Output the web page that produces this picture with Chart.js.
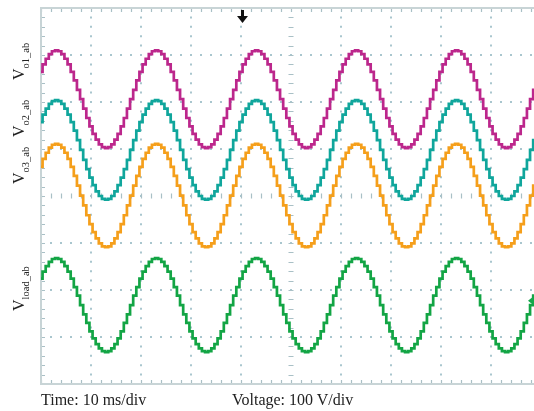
<!DOCTYPE html>
<html>
<head>
<meta charset="utf-8">
<script src="https://cdn.jsdelivr.net/npm/chart.js@4.4.1/dist/chart.umd.min.js"></script>
<style>
html,body{margin:0;padding:0;background:#fff;overflow:hidden}
#wrap{position:relative;width:534px;height:411px}
#c{position:absolute;left:0;top:0}
.yl{position:absolute;font-family:"Liberation Serif","DejaVu Serif",serif;font-size:16px;line-height:16px;color:#222;transform-origin:left top;transform:rotate(-90deg);white-space:nowrap}
.yl span{font-size:10.5px;position:relative;top:5px}
.xl{position:absolute;font-family:"Liberation Serif","DejaVu Serif",serif;font-size:16px;line-height:16px;color:#222;white-space:nowrap}
</style>
</head>
<body>
<div id="wrap">
<canvas id="c" width="534" height="411"></canvas>
<div class="yl" style="left:11px;top:80px">V<span>o1_ab</span></div>
<div class="yl" style="left:11px;top:137px">V<span>o2_ab</span></div>
<div class="yl" style="left:11px;top:184px">V<span>o3_ab</span></div>
<div class="yl" style="left:11px;top:311px">V<span>load_ab</span></div>
<div class="xl" style="left:41px;top:392px">Time: 10 ms/div</div>
<div class="xl" style="left:232px;top:392px">Voltage: 100 V/div</div>
</div>
<script>
// time (ms), one sample per staircase step
const timeMs = [
0,0.625,1.25,1.875,2.5,3.125,3.75,4.375,
5,5.625,6.25,6.875,7.5,8.125,8.75,9.375,
10,10.625,11.25,11.875,12.5,13.125,13.75,14.375,
15,15.625,16.25,16.875,17.5,18.125,18.75,19.375,
20,20.625,21.25,21.875,22.5,23.125,23.75,24.375,
25,25.625,26.25,26.875,27.5,28.125,28.75,29.375,
30,30.625,31.25,31.875,32.5,33.125,33.75,34.375,
35,35.625,36.25,36.875,37.5,38.125,38.75,39.375,
40,40.625,41.25,41.875,42.5,43.125,43.75,44.375,
45,45.625,46.25,46.875,47.5,48.125,48.75,49.375,
50,50.625,51.25,51.875,52.5,53.125,53.75,54.375,
55,55.625,56.25,56.875,57.5,58.125,58.75,59.375,
60,60.625,61.25,61.875,62.5,63.125,63.75,64.375,
65,65.625,66.25,66.875,67.5,68.125,68.75,69.375,
70,70.625,71.25,71.875,72.5,73.125,73.75,74.375,
75,75.625,76.25,76.875,77.5,78.125,78.75,79.375,
80,80.625,81.25,81.875,82.5,83.125,83.75,84.375,
85,85.625,86.25,86.875,87.5,88.125,88.75,89.375,
90,90.625,91.25,91.875,92.5,93.125,93.75,94.375,
95,95.625,96.25,96.875,97.5,98.125,98.75,99.375,
100];

// screen voltage (V, 100 V/div, 0 = screen centre)
const vo1 = [
264,280,292,302,308,
310,308,302,292,280,264,246,226,206,186,166,148,132,120,110,104,102,104,110,120,132,148,166,186,206,226,246,264,280,292,302,308,
310,308,302,292,280,264,246,226,206,186,166,148,132,120,110,104,102,104,110,120,132,148,166,186,206,226,246,264,280,292,302,308,
310,308,302,292,280,264,246,226,206,186,166,148,132,120,110,104,102,104,110,120,132,148,166,186,206,226,246,264,280,292,302,308,
310,308,302,292,280,264,246,226,206,186,166,148,132,120,110,104,102,104,110,120,132,148,166,186,206,226,246,264,280,292,302,308,
310,308,302,292,280,264,246,226,206,186,166,148,132,120,110,104,102,104,110,120,132,148,166,186,206,226,246,264];

const vo2 = [
157,173,186,196,202,
204,202,196,186,173,157,139,119,98,77,57,39,23,10,0,-6,-8,-6,0,10,23,39,57,77,98,119,139,157,173,186,196,202,
204,202,196,186,173,157,139,119,98,77,57,39,23,10,0,-6,-8,-6,0,10,23,39,57,77,98,119,139,157,173,186,196,202,
204,202,196,186,173,157,139,119,98,77,57,39,23,10,0,-6,-8,-6,0,10,23,39,57,77,98,119,139,157,173,186,196,202,
204,202,196,186,173,157,139,119,98,77,57,39,23,10,0,-6,-8,-6,0,10,23,39,57,77,98,119,139,157,173,186,196,202,
204,202,196,186,173,157,139,119,98,77,57,39,23,10,0,-6,-8,-6,0,10,23,39,57,77,98,119,139,157];

const vo3 = [
62,79,92,103,109,
111,109,103,92,79,62,43,22,1,-20,-41,-60,-77,-90,-101,-107,-109,-107,-101,-90,-77,-60,-41,-20,1,22,43,62,79,92,103,109,
111,109,103,92,79,62,43,22,1,-20,-41,-60,-77,-90,-101,-107,-109,-107,-101,-90,-77,-60,-41,-20,1,22,43,62,79,92,103,109,
111,109,103,92,79,62,43,22,1,-20,-41,-60,-77,-90,-101,-107,-109,-107,-101,-90,-77,-60,-41,-20,1,22,43,62,79,92,103,109,
111,109,103,92,79,62,43,22,1,-20,-41,-60,-77,-90,-101,-107,-109,-107,-101,-90,-77,-60,-41,-20,1,22,43,62,79,92,103,109,
111,109,103,92,79,62,43,22,1,-20,-41,-60,-77,-90,-101,-107,-109,-107,-101,-90,-77,-60,-41,-20,1,22,43,62];

const vload = [
-176,-161,-149,-140,-134,
-132,-134,-140,-149,-161,-176,-194,-212,-232,-252,-270,-288,-303,-315,-324,-330,-332,-330,-324,-315,-303,-288,-270,-252,-232,-212,-194,-176,-161,-149,-140,-134,
-132,-134,-140,-149,-161,-176,-194,-212,-232,-252,-270,-288,-303,-315,-324,-330,-332,-330,-324,-315,-303,-288,-270,-252,-232,-212,-194,-176,-161,-149,-140,-134,
-132,-134,-140,-149,-161,-176,-194,-212,-232,-252,-270,-288,-303,-315,-324,-330,-332,-330,-324,-315,-303,-288,-270,-252,-232,-212,-194,-176,-161,-149,-140,-134,
-132,-134,-140,-149,-161,-176,-194,-212,-232,-252,-270,-288,-303,-315,-324,-330,-332,-330,-324,-315,-303,-288,-270,-252,-232,-212,-194,-176,-161,-149,-140,-134,
-132,-134,-140,-149,-161,-176,-194,-212,-232,-252,-270,-288,-303,-315,-324,-330,-332,-330,-324,-315,-303,-288,-270,-252,-232,-212,-194,-176];

const seriesNames = ['Vo1_ab','Vo2_ab','Vo3_ab','Vload_ab'];
const triggerTimeMs = 40;
const loadGroundV = -223;

const dotColor = '#a9c6ce';
const tickColor = '#a9c0c6';
const frameColor = '#c8d4d6';

const scopeDecor = {
  id: 'scopeDecor',
  beforeDatasetsDraw(chart) {
    const {ctx, chartArea: a, scales: {x, y}} = chart;
    ctx.save();
    ctx.strokeStyle = tickColor;
    ctx.lineWidth = 1.2;
    const xc = x.getPixelForValue(50), yc = y.getPixelForValue(0);
    ctx.beginPath();
    for (let t = 0; t <= 100; t += 2) {
      const px = Math.round(x.getPixelForValue(t)) + 0.5;
      if (px > a.right + 1) break;
      ctx.moveTo(px, a.top); ctx.lineTo(px, a.top + 4);
      ctx.moveTo(px, a.bottom - 4); ctx.lineTo(px, a.bottom);
      ctx.moveTo(px, yc - 2.5); ctx.lineTo(px, yc + 2.5);
    }
    for (let v = -400; v <= 400; v += 20) {
      const py = Math.round(y.getPixelForValue(v)) + 0.5;
      ctx.moveTo(a.left, py); ctx.lineTo(a.left + 4, py);
      ctx.moveTo(xc - 2.5, py); ctx.lineTo(xc + 2.5, py);
    }
    ctx.stroke();
    // frame
    ctx.strokeStyle = frameColor;
    ctx.lineWidth = 2;
    ctx.beginPath();
    ctx.moveTo(a.right + 2, a.top); ctx.lineTo(a.left, a.top); ctx.lineTo(a.left, a.bottom); ctx.lineTo(a.right + 2, a.bottom);
    ctx.stroke();
    ctx.restore();
  },
  afterDatasetsDraw(chart) {
    const {ctx, chartArea: a, scales: {x, y}} = chart;
    ctx.save();
    // trigger arrow
    const tx = x.getPixelForValue(triggerTimeMs) + 1.5;
    ctx.fillStyle = '#111';
    ctx.fillRect(tx - 1.5, a.top + 2, 3, 7);
    ctx.beginPath();
    ctx.moveTo(tx - 5.5, a.top + 8); ctx.lineTo(tx + 5.5, a.top + 8); ctx.lineTo(tx, a.top + 15);
    ctx.closePath(); ctx.fill();
    // load channel ground marker
    const gy = y.getPixelForValue(loadGroundV);
    ctx.fillStyle = '#14a84a';
    ctx.beginPath();
    ctx.moveTo(a.right - 6, gy); ctx.lineTo(a.right + 1, gy - 5.5); ctx.lineTo(a.right + 1, gy + 5.5);
    ctx.closePath(); ctx.fill();
    ctx.restore();
  }
};

function ds(label, data, color) {
  return { label, data, borderColor: color, backgroundColor: color, borderWidth: 2.7,
    pointRadius: 0, stepped: 'middle', fill: false, borderJoinStyle: 'miter' };
}

new Chart(document.getElementById('c'), {
  type: 'line',
  data: {
    labels: timeMs,
    datasets: [
      ds(seriesNames[0], vo1, '#bc278c'),
      ds(seriesNames[1], vo2, '#10a69c'),
      ds(seriesNames[2], vo3, '#f59f1b'),
      ds(seriesNames[3], vload, '#13a545')
    ]
  },
  options: {
    responsive: false,
    animation: false,
    events: [],
    layout: { padding: { left: 41, top: 8, right: 0, bottom: 27 } },
    plugins: { legend: { display: false }, tooltip: { enabled: false } },
    scales: {
      x: {
        type: 'linear', min: 0, max: 98.6,
        ticks: { display: false, stepSize: 10 },
        border: { display: false, dash: [2, 7.4], dashOffset: 1 },
        grid: {
          drawTicks: false, lineWidth: 2,
          color: c => (c.tick && c.tick.value % 10 === 0 && c.tick.value !== 0 && c.tick.value !== 50) ? dotColor : 'rgba(0,0,0,0)'
        },
        afterFit: s => { s.height = 0; }
      },
      y: {
        min: -400, max: 400,
        ticks: { display: false, stepSize: 100 },
        border: { display: false, dash: [2, 8], dashOffset: 1 },
        grid: {
          drawTicks: false, lineWidth: 2,
          color: c => (c.tick && Math.abs(c.tick.value) !== 400 && c.tick.value !== 0) ? dotColor : 'rgba(0,0,0,0)'
        },
        afterFit: s => { s.width = 0; }
      }
    }
  },
  plugins: [scopeDecor]
});
</script>
</body>
</html>
